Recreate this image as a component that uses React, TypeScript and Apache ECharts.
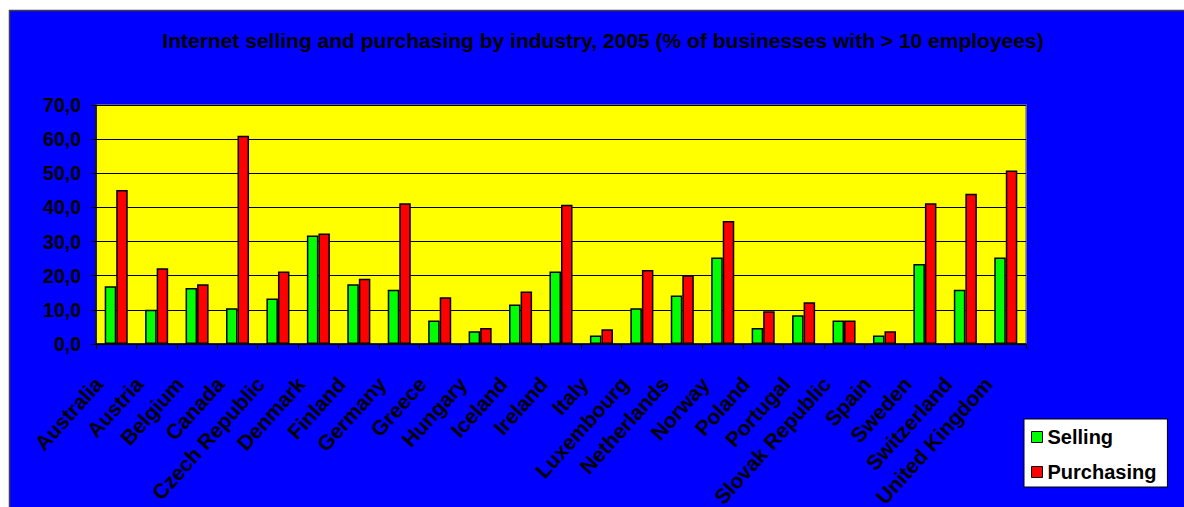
import React, { useEffect, useRef } from "react";
import * as echarts from "echarts";

const categories = [
  "Australia", "Austria", "Belgium", "Canada", "Czech Republic", "Denmark",
  "Finland", "Germany", "Greece", "Hungary", "Iceland", "Ireland", "Italy",
  "Luxembourg", "Netherlands", "Norway", "Poland", "Portugal",
  "Slovak Republic", "Spain", "Sweden", "Switzerland", "United Kingdom",
];

const selling = [
  16.9, 10.0, 16.4, 10.5, 13.3, 31.8, 17.5, 15.9, 6.9, 3.7, 11.6, 21.2, 2.5,
  10.5, 14.2, 25.3, 4.7, 8.4, 6.9, 2.5, 23.4, 15.9, 25.3,
];

const purchasing = [
  45.1, 22.2, 17.5, 61.0, 21.2, 32.4, 19.1, 41.2, 13.7, 4.7, 15.4, 40.8, 4.3,
  21.7, 20.1, 36.0, 9.6, 12.2, 6.9, 3.7, 41.2, 44.0, 50.8,
];

const titleText =
  "Internet selling and purchasing by industry, 2005 (% of businesses with > 10 employees)";

const FONT = "'Liberation Sans', Arial, sans-serif";

export default function App() {
  const ref = useRef<HTMLDivElement>(null);

  useEffect(() => {
    if (!ref.current) return;
    const chart = echarts.init(ref.current, undefined, { renderer: "svg" });
    chart.setOption({
      animation: false,
      backgroundColor: "#ffffff",
      graphic: [
        {
          type: "rect",
          z: -10,
          silent: true,
          shape: { x: 9.5, y: 10.5, width: 1190, height: 510 },
          style: { fill: "#0000ff", stroke: "#404040", lineWidth: 1.5 },
        },
        {
          type: "text",
          x: 603,
          y: 40,
          style: {
            text: titleText,
            font: `bold 21px ${FONT}`,
            fill: "#000000",
            align: "center",
            verticalAlign: "middle",
          },
        },
      ],
      legend: {
        orient: "vertical",
        left: 1024,
        top: 419,
        backgroundColor: "#ffffff",
        borderColor: "#000000",
        borderWidth: 1,
        borderRadius: 0,
        padding: [8, 11, 5, 7],
        itemGap: 15,
        itemWidth: 11,
        itemHeight: 11,
        icon: "rect",
        itemStyle: { borderColor: "#000000", borderWidth: 1 },
        textStyle: {
          fontFamily: FONT,
          fontWeight: "bold",
          fontSize: 20,
          color: "#000000",
          lineHeight: 20,
        },
        data: ["Selling", "Purchasing"],
      },
      grid: {
        left: 96,
        top: 105,
        width: 930,
        height: 239,
        outerBoundsMode: "none",
        containLabel: false,
        show: true,
        backgroundColor: "#ffff00",
        borderColor: "#808080",
        borderWidth: 1.5,
      },
      xAxis: {
        type: "category",
        data: categories,
        axisLine: { show: true, lineStyle: { color: "#000000", width: 1.5 } },
        axisTick: {
          show: true,
          interval: 0,
          alignWithLabel: false,
          length: 5,
          lineStyle: { color: "#000000", width: 1 },
        },
        axisLabel: {
          interval: 0,
          rotate: 48,
          margin: 17,
          padding: [0, 26, 0, 0],
          fontFamily: FONT,
          fontWeight: "bold",
          fontSize: 21,
          color: "#000000",
        },
      },
      yAxis: {
        type: "value",
        min: 0,
        max: 70,
        interval: 10,
        axisLine: { show: true, lineStyle: { color: "#000000", width: 1.5 } },
        axisTick: { show: true, length: 5, lineStyle: { color: "#000000" } },
        splitLine: { show: true, lineStyle: { color: "#000000", width: 1 } },
        axisLabel: {
          margin: 15,
          fontFamily: FONT,
          fontWeight: "bold",
          fontSize: 19.5,
          color: "#000000",
          formatter: (v: number) => v.toFixed(1).replace(".", ","),
        },
      },
      series: [
        {
          name: "Selling",
          type: "bar",
          data: selling,
          barGap: "0%",
          barCategoryGap: "43%",
          itemStyle: { color: "#00ff00", borderColor: "#000000", borderWidth: 1.5 },
        },
        {
          name: "Purchasing",
          type: "bar",
          data: purchasing,
          barGap: "0%",
          barCategoryGap: "43%",
          itemStyle: { color: "#ff0000", borderColor: "#000000", borderWidth: 1.5 },
        },
      ],
    });
    return () => chart.dispose();
  }, []);

  return (
    <div
      ref={ref}
      style={{ position: "absolute", left: 0, top: 0, width: 1184, height: 507 }}
    />
  );
}
